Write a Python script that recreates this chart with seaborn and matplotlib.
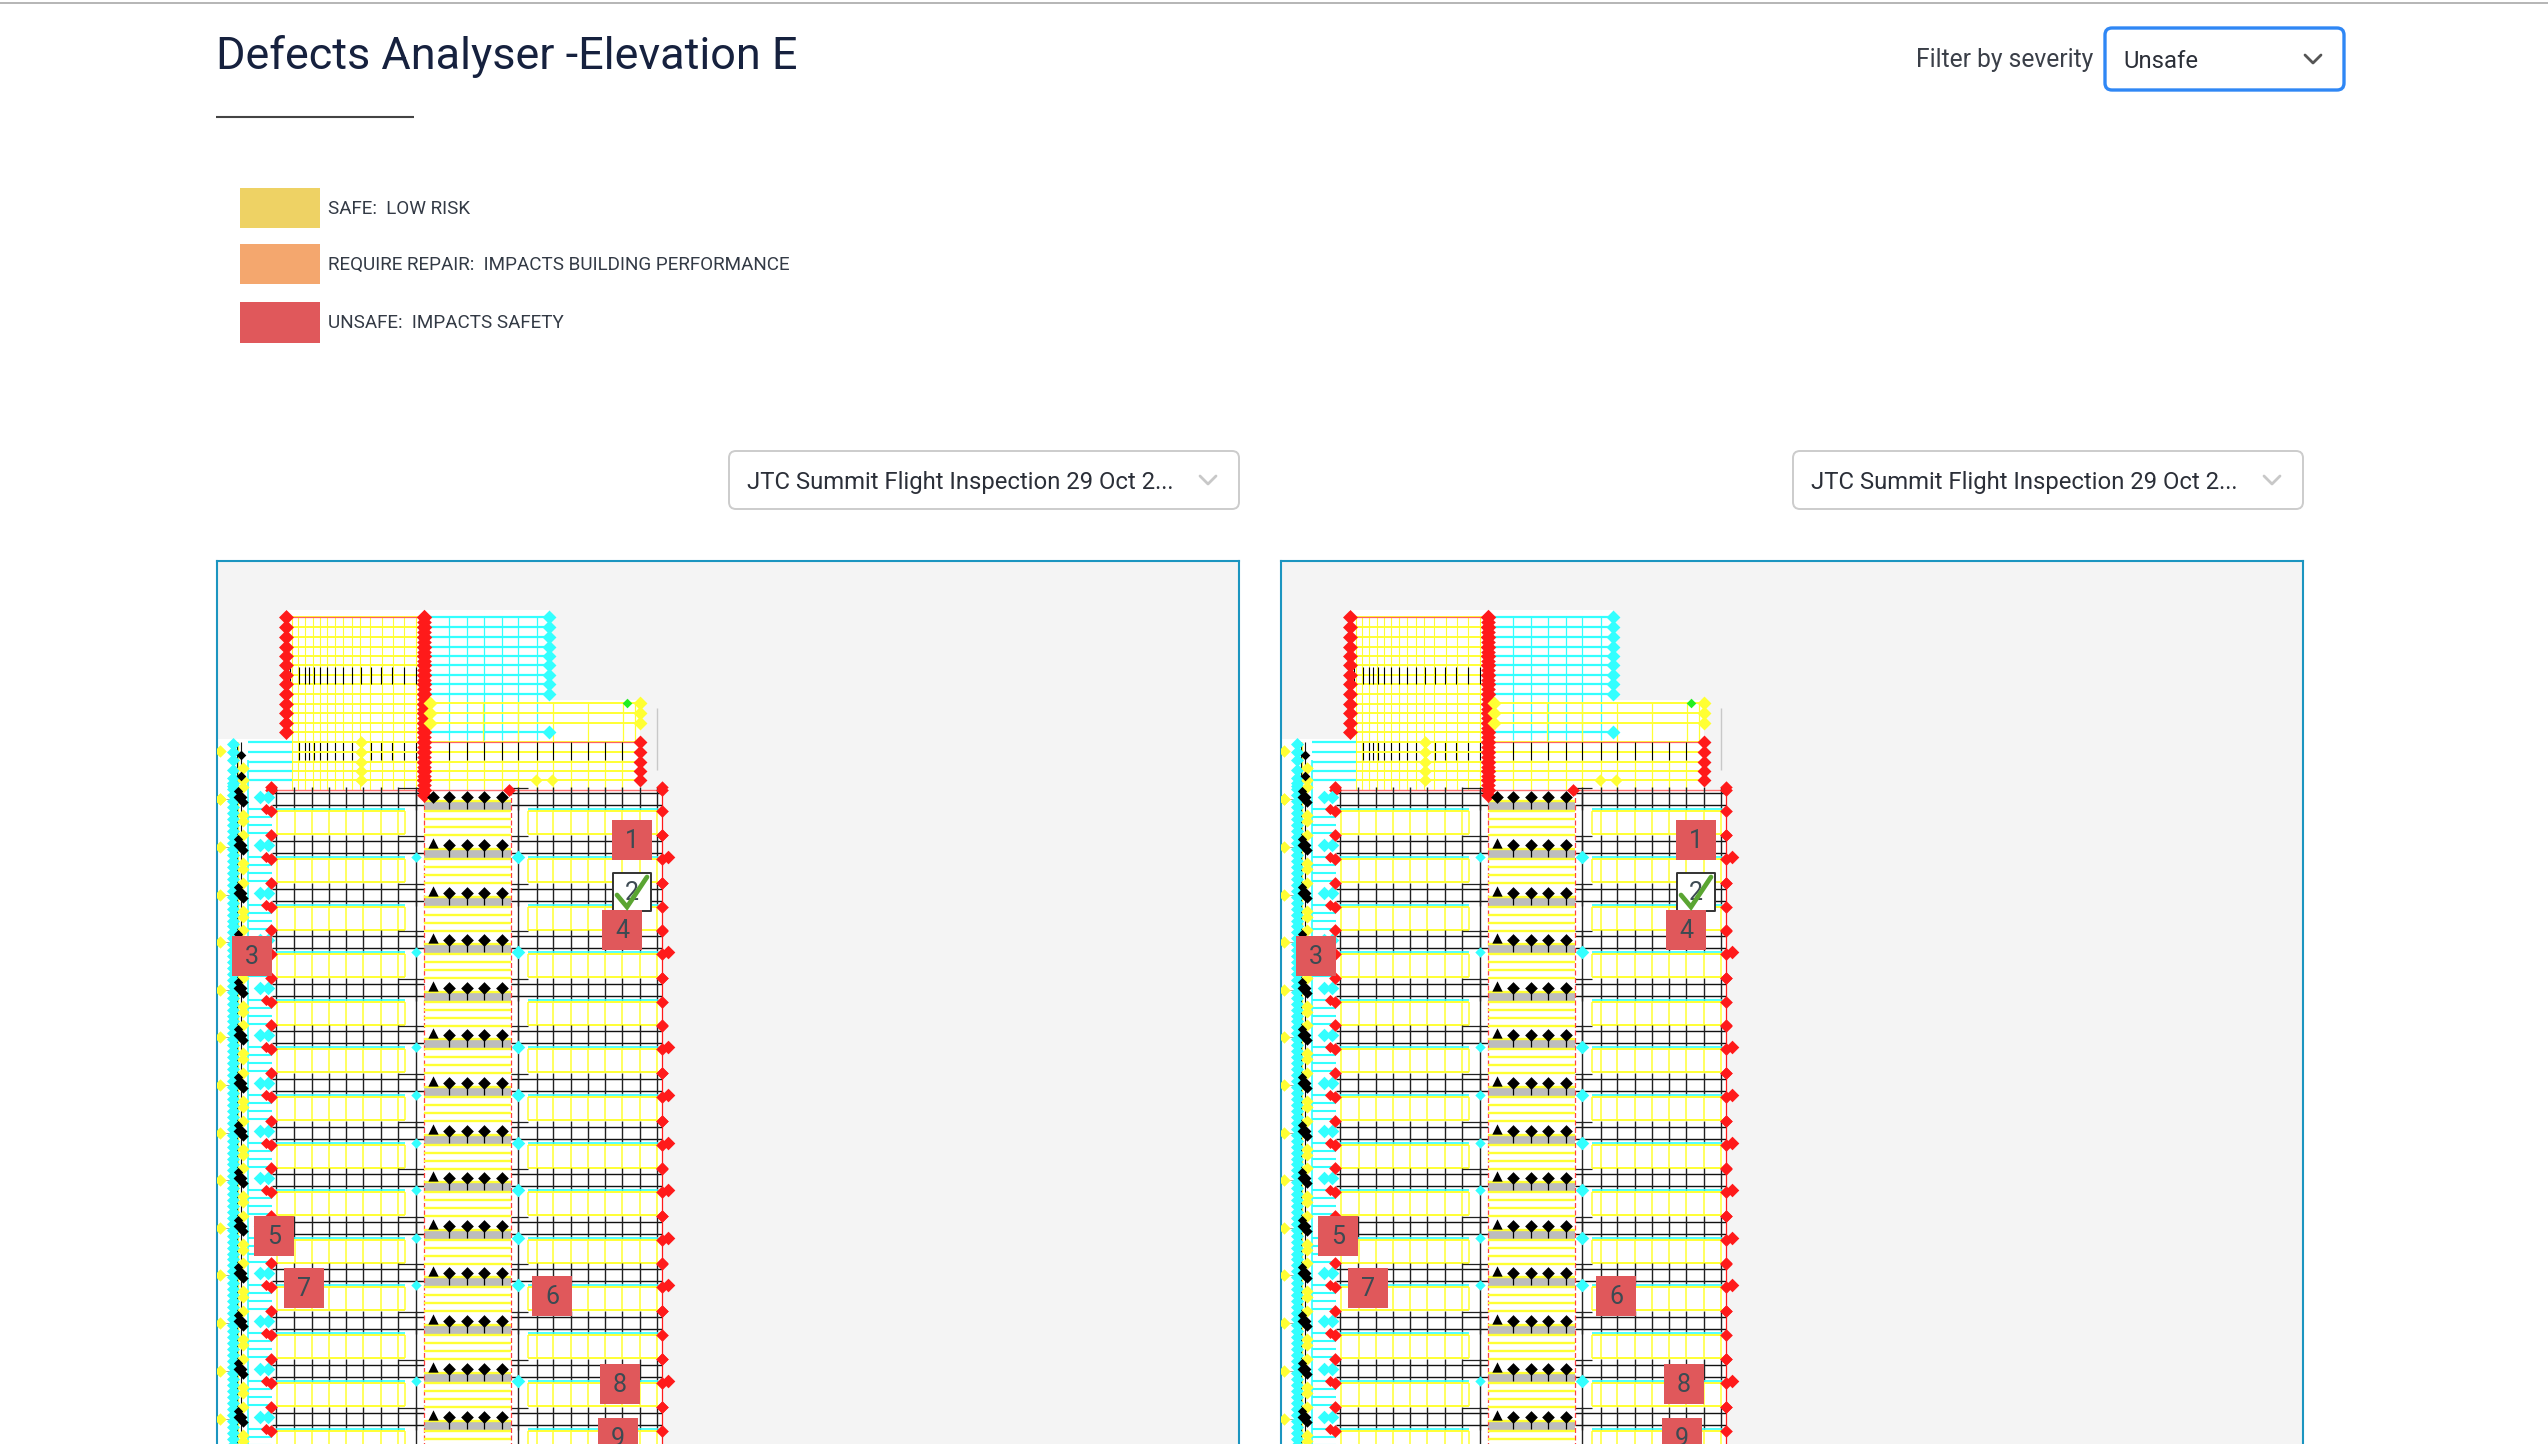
import pandas as pd
import matplotlib.pyplot as plt
from matplotlib.patches import FancyBboxPatch
import seaborn as sns

W, H = 2548, 1444

TITLE = "Defects Analyser -Elevation E"
SEVERITY_LABELS = ["SAFE:  LOW RISK", "REQUIRE REPAIR:  IMPACTS BUILDING PERFORMANCE", "UNSAFE:  IMPACTS SAFETY"]
SEVERITY_COLORS = ["#eed264", "#f4a76e", "#e0585b"]
SEVERITY_TOP = [188, 244, 302]
SEVERITY_BOTTOM = [228, 284, 343]
FILTER_LABEL = "Filter by severity"
FILTER_VALUE = "Unsafe"
FLIGHT_LABEL = "JTC Summit Flight Inspection 29 Oct 2..."

# drawing geometry, in page pixels
floor_rows = [797, 845, 893, 940, 988, 1035, 1083, 1131, 1178, 1226, 1273, 1321, 1369, 1417]
cyan_floors = [1, 3, 5, 6, 7, 8, 9, 10, 12]
left_wing_x = [277, 295, 312, 329, 346, 363, 381, 398, 405]
left_grid_x = [276, 294, 312, 329, 346, 363, 381, 398, 416]
right_wing_x = [528, 537, 553, 571, 588, 605, 622, 640, 657]
right_grid_x = [518, 537, 553, 571, 588, 605, 622, 640, 657]
centre_diamonds_x = [449, 467, 484, 502]

tower_rows = [617, 627, 637, 647, 656, 665, 675, 684, 694, 704, 713, 723, 732]
tower_cols = [292, 298, 305, 313, 320, 327, 335, 343, 352, 360, 370, 382, 393, 404, 416]
tower_black_x = [288, 290, 299, 305, 309, 314, 320, 327, 335, 343, 352, 361, 371, 381, 392, 404, 416]
cyan_rows = [617, 627, 637, 647, 656, 665, 675, 684, 694]
cyan_cols = [449, 467, 484, 502, 518, 537]
upper_right_rows = [703, 713, 723]
upper_right_cols = [483, 518, 553, 588, 623, 635]
lower_rows = [742, 752, 762, 771, 780]
lower_right_cols = [449, 467, 484, 502, 518, 537, 553, 571, 588, 605, 622]
lower_left_rows = [742, 752, 762, 771, 780]
lower_black_x = [299, 305, 309, 314, 320, 327, 335, 343, 352, 361, 371, 381, 392, 404, 416]
corner_black_y = [755, 776]
corner_cyan_y = [744, 752, 760, 770, 778, 786]

outline_x = [218, 285, 285, 430, 549, 549, 640, 640, 662, 662, 218]
outline_y = [739, 739, 610, 610, 610, 700, 700, 790, 790, 1444, 1444]

marker_labels = ["1", "2", "3", "4", "5", "6", "7", "8", "9"]
marker_x = [632, 632, 252, 622, 274, 552, 304, 620, 618]
marker_y = [840, 892, 956, 930, 1236, 1296, 1288, 1384, 1438]
check_x = [617, 627, 647]
check_y = [895, 907, 877]

YELLOW, CYAN, RED, BLACK, GREY = "#ffff33", "#33ffff", "#ff1a1a", "#000000", "#bdbdbd"


def diamonds(ax, xs, ys, color, size=42, marker="D"):
    df = pd.DataFrame({"x": xs, "y": ys})
    sns.scatterplot(data=df, x="x", y="y", color=color, s=size, marker=marker,
                    linewidth=0, legend=False, ax=ax, zorder=5)


def draw_elevation(ax):
    ax.set_facecolor("#f4f4f4")
    ax.fill(outline_x, outline_y, color="white", lw=0)

    # tower on top
    ax.hlines(tower_rows, 290, 424, color=YELLOW, lw=1.4)
    ax.vlines(tower_cols, 617, 790, color=YELLOW, lw=0.8)
    ax.hlines(617, 290, 424, color="#ff6060", lw=0.9)
    ax.vlines(tower_black_x, 667, 684, color=BLACK, lw=0.8)
    ax.vlines(lower_black_x, 742, 760, color=BLACK, lw=0.8)
    ax.hlines(cyan_rows, 430, 549, color=CYAN, lw=1.6)
    ax.vlines(cyan_cols, 617, 740, color=CYAN, lw=0.9)
    ax.hlines(732, 430, 549, color=CYAN, lw=1.6)
    ax.hlines(upper_right_rows, 430, 640, color=YELLOW, lw=1.4)
    ax.vlines(upper_right_cols, 703, 742, color=YELLOW, lw=0.9)
    ax.hlines(lower_rows, 430, 640, color=YELLOW, lw=1.4)
    ax.hlines(742, 430, 640, color="#ff6060", lw=0.9)
    ax.vlines(lower_right_cols, 742, 790, color=YELLOW, lw=0.9)
    ax.vlines(lower_right_cols, 742, 760, color=BLACK, lw=0.8)
    ax.hlines(lower_left_rows, 292, 424, color=YELLOW, lw=1.4)
    ax.hlines(lower_left_rows, 248, 292, color=CYAN, lw=1.6)
    ax.vlines([657], 708, 770, color="#c8c8c8", lw=1.0)
    ax.hlines(790, 272, 662, color="#ff7070", lw=1.0)

    # repeating floors
    for i, y0 in enumerate(floor_rows):
        ax.hlines([y0 - 4, y0 + 8], 272, 424, color="#111111", lw=1.0)
        ax.hlines([y0 - 4, y0 + 8], 511, 662, color="#111111", lw=1.0)
        ax.hlines(y0 - 9, 398, 424, color="#222222", lw=0.9)
        ax.hlines(y0 - 9, 511, 528, color="#222222", lw=0.9)
        ax.vlines(left_grid_x, y0 - 10, y0 + 13, color="#222222", lw=1.0)
        ax.vlines(right_grid_x, y0 - 10, y0 + 13, color="#222222", lw=1.0)

        # grey slab + yellow lines in the centre bay
        ax.fill_between([424, 511], y0 + 5, y0 + 13, color=GREY, lw=0, zorder=2)
        ax.hlines([y0 + 4, y0 + 14, y0 + 22, y0 + 30, y0 + 38], 424, 511, color=YELLOW, lw=1.7, zorder=3)
        ax.vlines(centre_diamonds_x, y0, y0 + 12, color=BLACK, lw=0.9, zorder=3)

        # yellow window bands
        ax.hlines([y0 + 14, y0 + 37], 277, 405, color=YELLOW, lw=1.4)
        ax.hlines([y0 + 14, y0 + 37], 528, 658, color=YELLOW, lw=1.4)
        ax.vlines(left_wing_x, y0 + 14, y0 + 37, color=YELLOW, lw=1.1)
        ax.vlines(right_wing_x, y0 + 14, y0 + 37, color=YELLOW, lw=1.1)
        ax.hlines(y0 + 12, 276, 405, color=CYAN, lw=1.2)
        ax.hlines(y0 + 12, 528, 658, color=CYAN, lw=1.2)
        ax.hlines([y0 + 12, y0 + 20, y0 + 28, y0 + 36], 248, 272, color=CYAN, lw=1.5)
        ax.hlines(y0 + 2, 222, 235, color="#999999", lw=0.6)

    ax.vlines([416, 518], 790, 1444, color="#222222", lw=1.0)
    ax.vlines([424, 511], 790, 1444, color="#ff4040", lw=0.9, linestyles=(0, (4, 2)))
    ax.vlines(662, 790, 1444, color=RED, lw=0.9)
    ax.vlines([238], 742, 1444, color=YELLOW, lw=1.0)
    ax.vlines([248], 760, 1444, color=CYAN, lw=1.2)
    ax.vlines([237, 241], 742, 1444, color="#111111", lw=0.8)

    # diamonds along the tower edges
    edge_left = tower_rows
    edge_mid = tower_rows + lower_rows + [790]
    diamonds(ax, [286] * len(edge_left), edge_left, RED, 58)
    diamonds(ax, [424] * len(edge_mid), edge_mid, RED, 62)
    diamonds(ax, [424] * len(edge_mid), [y + 5 for y in edge_mid], RED, 56)
    diamonds(ax, [549] * len(cyan_rows + [732]), cyan_rows + [732], CYAN, 50)
    diamonds(ax, [640] * len(upper_right_rows), upper_right_rows, YELLOW, 50)
    diamonds(ax, [430] * len(upper_right_rows), upper_right_rows, YELLOW, 50)
    diamonds(ax, [627], [703], "#22ee22", 24)
    diamonds(ax, [640] * len(lower_rows), lower_rows, RED, 50)
    diamonds(ax, [361] * len(lower_rows), lower_rows, YELLOW, 42)
    diamonds(ax, [536, 552], [780, 780], YELLOW, 38)
    diamonds(ax, [509, 271, 662], [790, 790, 790], RED, 42)

    # corner block above the first floor
    diamonds(ax, [220, 220], [751, 799], YELLOW, 40)
    diamonds(ax, [233] * len(corner_cyan_y), corner_cyan_y, CYAN, 44)
    diamonds(ax, [243, 243], [768, 780], YELLOW, 40)
    diamonds(ax, [241, 241], corner_black_y, BLACK, 24)

    # per floor diamonds
    n = len(floor_rows)
    ys = floor_rows
    diamonds(ax, [220] * n, [y + 2 for y in ys], YELLOW, 40)
    for dy in [-14, -8, -2, 4, 10, 16, 22, 28]:
        diamonds(ax, [233] * n, [y + dy for y in ys], CYAN, 44)
    for dy in [-10, 18, 24]:
        diamonds(ax, [243] * n, [y + dy for y in ys], YELLOW, 38)
    diamonds(ax, [260] * n, ys, CYAN, 48)
    diamonds(ax, [268] * n, ys, CYAN, 48)
    diamonds(ax, [240] * n, ys, BLACK, 50)
    diamonds(ax, [243] * n, [y + 5 for y in ys], BLACK, 28)
    diamonds(ax, [238] * n, [y - 6 for y in ys], BLACK, 22)
    diamonds(ax, [271] * n, [y - 10 for y in ys], RED, 42)
    diamonds(ax, [271] * n, [y + 14 for y in ys], RED, 42)
    diamonds(ax, [266] * n, [y + 12 for y in ys], RED, 32)
    diamonds(ax, [662] * n, [y - 10 for y in ys], RED, 40)
    diamonds(ax, [662] * n, [y + 14 for y in ys], RED, 42)
    diamonds(ax, [662] * n, [y + 38 for y in ys], RED, 40)

    for x in centre_diamonds_x:
        diamonds(ax, [x] * n, ys, BLACK, 42)
    diamonds(ax, [433], [floor_rows[0]], BLACK, 42)
    diamonds(ax, [433] * (n - 1), [y - 2 for y in ys[1:]], BLACK, 55, marker="^")

    cyan_ys = [floor_rows[i] + 12 for i in cyan_floors]
    diamonds(ax, [416] * len(cyan_ys), cyan_ys, CYAN, 28)
    diamonds(ax, [518] * len(cyan_ys), cyan_ys, CYAN, 48)
    diamonds(ax, [668] * len(cyan_ys), cyan_ys, RED, 48)

    # numbered defect markers
    df = pd.DataFrame({"x": marker_x, "y": marker_y, "label": marker_labels})
    red = df[df["label"] != "2"]
    sns.scatterplot(data=red, x="x", y="y", color=SEVERITY_COLORS[2], marker="s", s=830,
                    linewidth=0, legend=False, ax=ax, zorder=7)
    sns.scatterplot(data=df[df["label"] == "2"], x="x", y="y", color="white", marker="s", s=760,
                    edgecolor="#333333", linewidth=1.4, legend=False, ax=ax, zorder=6)
    for _, row in df.iterrows():
        ax.text(row["x"], row["y"] + 1, row["label"], ha="center", va="center", fontsize=18,
                family=UI_FONT, color="#3d4a52", zorder=8, clip_on=True)
    ax.plot(check_x, check_y, color="#5aa532", lw=3.4, solid_joinstyle="miter", zorder=9)

    ax.set_xlim(217, 1239)
    ax.set_ylim(1444, 561)
    ax.set_xlabel("")
    ax.set_ylabel("")
    ax.set_xticks([])
    ax.set_yticks([])
    sns.despine(ax=ax, top=False, right=False, left=False, bottom=True)
    for name in ["top", "left", "right"]:
        ax.spines[name].set_color("#1b95c0")
        ax.spines[name].set_linewidth(1.5)


def dropdown(page, x0, y0, x1, y1, text, edge, lw, chevron):
    box = FancyBboxPatch((x0 + 5, y0 + 5), x1 - x0 - 10, y1 - y0 - 10, boxstyle="round,pad=5,rounding_size=7",
                         fc="white", ec=edge, lw=lw)
    page.add_patch(box)
    page.text(x0 + 18, (y0 + y1) / 2, text, family=UI_FONT, fontsize=DROPDOWN_SIZE, color="#2b2f38", va="center_baseline")
    cx = x1 - 31
    cy = (y0 + y1) / 2
    page.plot([cx - 8, cx, cx + 8], [cy - 4, cy + 4, cy - 4], color=chevron, lw=2)


UI_FONT = ["Roboto", "DejaVu Sans"]
DROPDOWN_SIZE = 17.2

sns.set_theme(style="white")
plt.rcParams["font.family"] = UI_FONT

fig = plt.figure(figsize=(W / 100, H / 100), dpi=100, facecolor="white")
page = fig.add_axes([0, 0, 1, 1])
page.set_xlim(0, W)
page.set_ylim(H, 0)
page.axis("off")

page.hlines(2.5, 0, W, color="#b5b5b5", lw=1.4)
page.text(216, 52, TITLE, fontsize=32.4, color="#16213e", va="center_baseline", family=UI_FONT)
page.hlines(117, 216, 414, color="#444444", lw=1.5)

for label, color, top, bottom in zip(SEVERITY_LABELS, SEVERITY_COLORS, SEVERITY_TOP, SEVERITY_BOTTOM):
    page.fill_between([240, 320], top, bottom, color=color, lw=0)
    page.text(328, (top + bottom) / 2 - 1, label, fontsize=13.6, color="#333a45", va="center_baseline")

page.text(1916, 58, FILTER_LABEL, fontsize=17.7, color="#3a3f48", va="center_baseline")
dropdown(page, 2105, 28, 2344, 90, FILTER_VALUE, "#2f87f5", 2.4, "#555555")
dropdown(page, 729, 451, 1239, 509, FLIGHT_LABEL, "#cccccc", 1.4, "#c8c8c8")
dropdown(page, 1793, 451, 2303, 509, FLIGHT_LABEL, "#cccccc", 1.4, "#c8c8c8")

panel_h = (H - 561) / H
for left in [217, 1281]:
    ax = fig.add_axes([left / W, 0, 1022 / W, panel_h])
    draw_elevation(ax)

fig.savefig("out.png", dpi=100)
plt.close(fig)
